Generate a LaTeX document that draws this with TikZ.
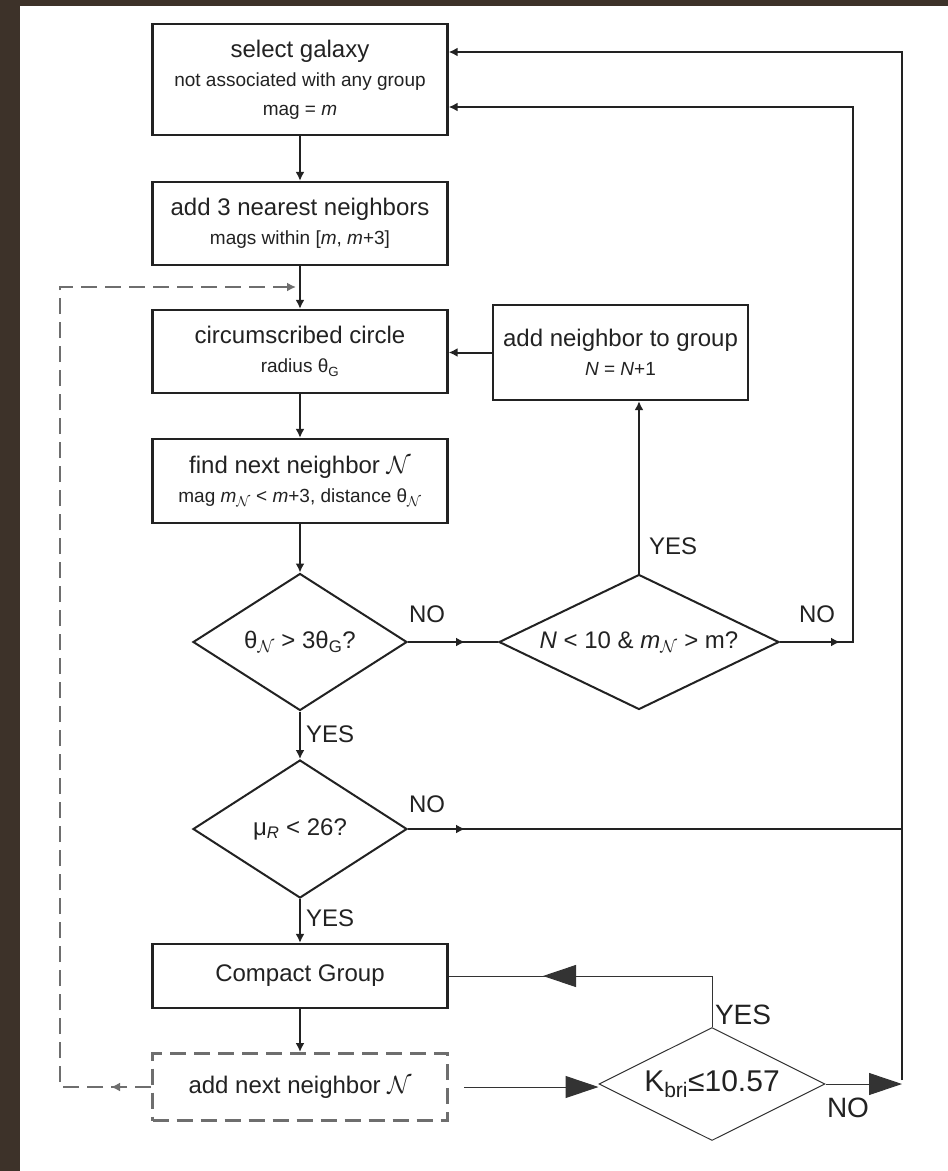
\documentclass[tikz,border=0pt]{standalone}
\usepackage{fontspec}
\setmainfont{Liberation Sans}
\usetikzlibrary{arrows.meta, positioning, shapes.geometric, decorations.markings}
\definecolor{cink}{HTML}{222222}
\definecolor{cdash}{HTML}{6E6E6E}
\definecolor{ctri}{HTML}{333333}
\definecolor{cframe}{HTML}{3D3229}
\newcommand{\subtxt}{\fontsize{19}{25}\selectfont}
\newcommand{\nbr}{$\mathcal{N}$}
\tikzset{
  every picture/.style={line width=2pt},
  box/.style={draw=cink, text=cink, line width=2.3pt, align=center, inner sep=2pt,
    minimum width=295pt, font=\fontsize{24}{29}\selectfont},
  decision/.style={draw=cink, text=cink, diamond, aspect=#1, inner sep=0pt,
    font=\fontsize{24}{29}\selectfont},
  arrow/.style={-{Latex[length=9pt, width=9pt]}, draw=cink},
  tipat/.style={draw=cink, postaction={decorate}, decoration={markings,
    mark=at position #1 with {\arrow{Latex[length=9pt, width=9pt]}}}},
  ans/.style={text=cink, anchor=west, inner sep=0pt, font=\fontsize{24}{29}\selectfont},
  dashloop/.style={draw=cdash, dash pattern=on 16pt off 8pt},
  thinline/.style={draw=ctri, line width=1pt},
  bigarrow/.style={thinline, -{Triangle[length=33pt, width=22pt]}},
  bigtipat/.style={thinline, postaction={decorate}, decoration={markings,
    mark=at position #1 with {\arrow{Triangle[length=33pt, width=22pt]}}}},
}

\begin{document}
\begin{tikzpicture}[x=1pt, y=-1pt]
  \useasboundingbox (0,0) rectangle (948,1171);
  \fill[cframe] (0,0) rectangle (948,1171);
  \fill[white] (20,6) rectangle (948,1171);

  \node[box, minimum height=111pt] (sel) at (300,79.5) {select galaxy\\{\subtxt not associated with any group}\\{\subtxt mag = \textit{m}}};
  \node[box, minimum height=83pt] (add3) at (300,223.5) {add 3 nearest neighbors\\{\subtxt mags within [\textit{m}, \textit{m}+3]}};
  \node[box, minimum height=83pt] (circ) at (300,351.5) {circumscribed circle\\{\subtxt radius θ\textsubscript{G}}};
  \node[box, minimum width=255pt, minimum height=95pt] (addn) at (620.5,352.5) {add neighbor to group\\{\subtxt \textit{N} = \textit{N}+1}};
  \node[box, minimum height=84pt] (find) at (300,481) {find next neighbor \nbr\\{\subtxt mag \textit{m}\textsubscript{\nbr} < \textit{m}+3, distance θ\textsubscript{\nbr}}};
  \node[decision=1.56, minimum width=214pt, minimum height=137pt] (d1) at (300,642) {θ\textsubscript{\nbr} > 3θ\textsubscript{G}?};
  \node[decision=2.07, minimum width=280pt, minimum height=135pt] (d2) at (639,642) {\textit{N} < 10 \& \textit{m}\textsubscript{\nbr} > m?};
  \node[decision=1.56, minimum width=214pt, minimum height=138pt] (d3) at (300,829) {μ\textsubscript{\textit{R}} < 26?};
  \node[box, minimum height=64pt] (cg) at (300,976) {Compact Group};
  \node[box, draw=cdash, line width=3pt, dash pattern=on 16pt off 8pt, minimum height=67pt] (nxt) at (300,1087) {add next neighbor \nbr};
  \node[decision=2, draw=ctri, line width=1pt, font=\fontsize{30}{34}\selectfont, minimum width=226pt, minimum height=113pt] (d4) at (712,1084) {K\textsubscript{bri}≤10.57};

  \node[ans] (no1) at (408,614) {NO};
  \node[ans] (no2) at (798,614) {NO};
  \node[ans] (yes1) at (648,546) {YES};
  \node[ans] (yes2) at (305,734) {YES};
  \node[ans] (no3) at (408,804) {NO};
  \node[ans] (yes3) at (305,918) {YES};
  \node[ans, font=\fontsize{28}{32}\selectfont] (yes4) at (714,1015) {YES};
  \node[ans, font=\fontsize{28}{32}\selectfont] (no4) at (826,1108) {NO};

  \coordinate (inner) at (853,107);
  \coordinate (rtop) at (902,52);
  \coordinate (rbot) at (902,1080);
  \coordinate (dtop) at (60,287);

  \draw[arrow] (sel) -- (add3);
  \draw[arrow] (add3) -- (circ);
  \draw[arrow] (addn.west) -- (addn.west -| circ.east);
  \draw[arrow] (circ) -- (find);
  \draw[arrow] (find) -- (d1);
  \draw[tipat=57pt] (d1) -- (d2);
  \draw[arrow] (d2.north) -- (d2.north |- addn.south);
  \draw[arrow, tipat=60pt] (d2.east) -| (inner) -- (inner -| sel.east);
  \draw[arrow] (d1) -- (d3);
  \draw[tipat=57pt] (d3.east) -- (d3.east -| rtop);
  \draw[arrow] (rbot) -- (rtop) -- (rtop -| sel.east);
  \draw[arrow] (d3) -- (cg);
  \draw[arrow] (cg) -- (nxt);
  \draw[dashloop, -{Latex[length=9pt, width=9pt]}, postaction={decorate}, decoration={markings,
    mark=at position 40pt with {\arrow{Latex[length=9pt, width=9pt]}}}]
    (nxt.west) -| (dtop) -- ([xshift=-4pt]dtop -| add3.south);

  \draw[bigarrow] ([xshift=15pt]nxt.east) -- (nxt.east -| d4.west);
  \draw[bigtipat=220pt] (d4.north) |- (cg.east);
  \draw[bigarrow] (d4.east) -- (d4.east -| rtop);
\end{tikzpicture}
\end{document}
